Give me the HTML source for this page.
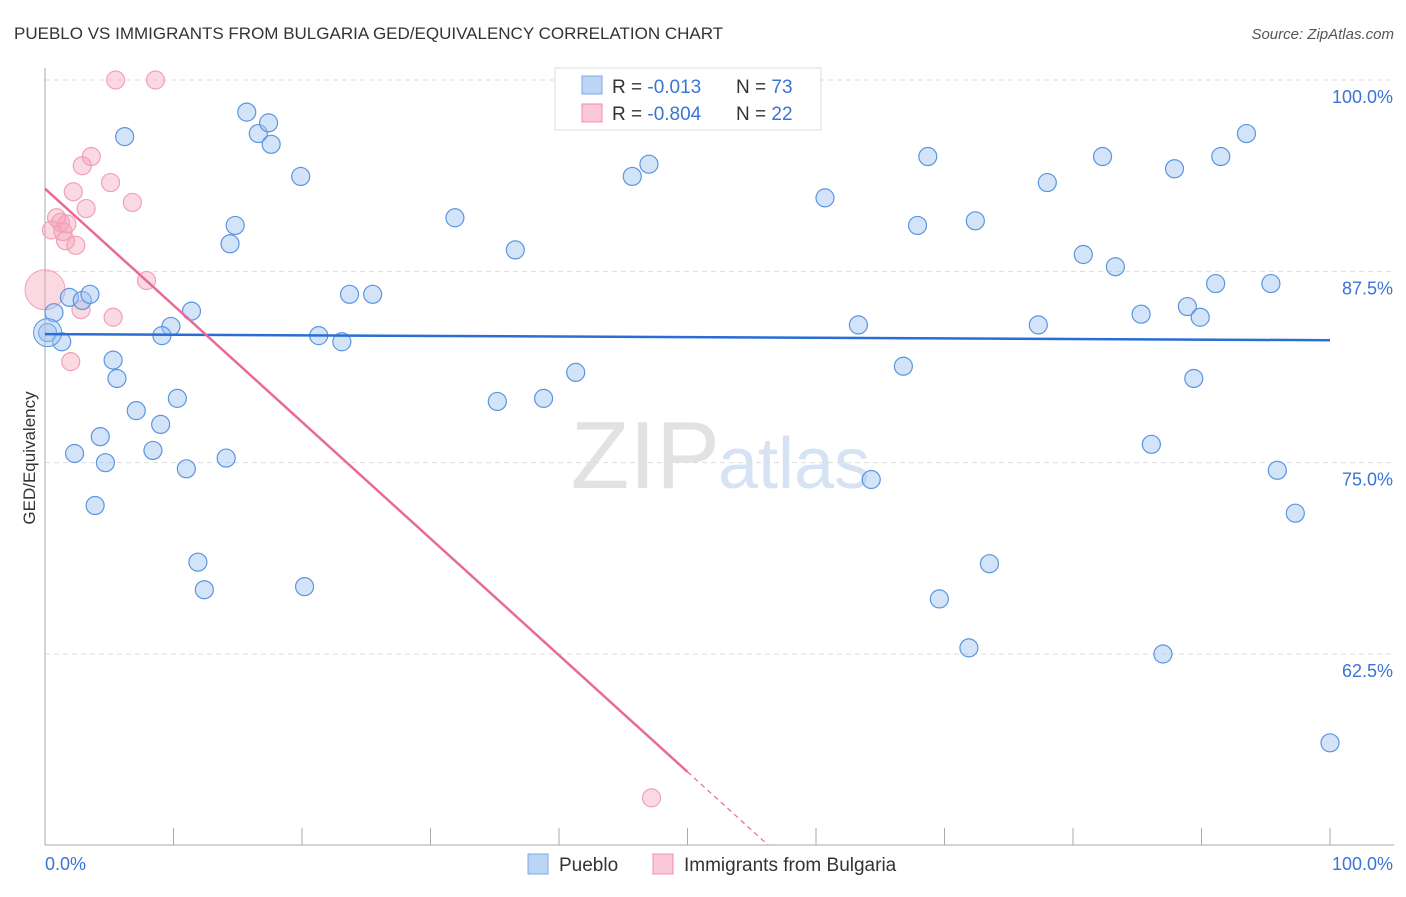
<!DOCTYPE html>
<html><head><meta charset="utf-8"><style>
body{margin:0;background:#fff;font-family:"Liberation Sans",sans-serif;}
svg text{font-family:"Liberation Sans",sans-serif;}
</style></head><body>
<svg id="c" width="1406" height="892" viewBox="0 0 1406 892" xmlns="http://www.w3.org/2000/svg">
<text x="14" y="39" font-size="17" fill="#333">PUEBLO VS IMMIGRANTS FROM BULGARIA GED/EQUIVALENCY CORRELATION CHART</text>
<text x="1394" y="39" font-size="15" fill="#555" font-style="italic" text-anchor="end">Source: ZipAtlas.com</text>
<text x="720" y="488" font-size="96" fill="#e2e2e2" text-anchor="end" font-family="Liberation Serif">ZIP</text>
<text x="718" y="488" font-size="72" fill="#d6e3f5">atlas</text>
<g id="grid"></g>
<g id="axes"></g>
<g id="pts"></g>
<g id="trend"></g>
<text x="35" y="458" font-size="17" fill="#333" text-anchor="middle" transform="rotate(-90 35 458)">GED/Equivalency</text>
<g>
<rect x="555" y="68" width="266" height="62" fill="#fff" stroke="#ddd"/>
<rect x="582" y="76" width="20" height="18" fill="#bcd5f5" stroke="#7aaae8"/>
<rect x="582" y="104" width="20" height="18" fill="#fbc8d8" stroke="#f08cab"/>
<text x="612" y="93" font-size="19" fill="#333">R = <tspan fill="#3a74d4"> -0.013</tspan></text>
<text x="736" y="93" font-size="19" fill="#333">N = <tspan fill="#3a74d4">73</tspan></text>
<text x="612" y="120" font-size="19" fill="#333">R = <tspan fill="#3a74d4">-0.804</tspan></text>
<text x="736" y="120" font-size="19" fill="#333">N = <tspan fill="#3a74d4">22</tspan></text>
</g>
<g>
<rect x="528" y="854" width="20" height="20" fill="#bcd5f5" stroke="#7aaae8"/>
<text x="559" y="871" font-size="19" fill="#333">Pueblo</text>
<rect x="653" y="854" width="20" height="20" fill="#fbc8d8" stroke="#f08cab"/>
<text x="684" y="871" font-size="19" fill="#333">Immigrants from Bulgaria</text>
</g>
</svg>
<script>
const blueX=[0.2,0.7,1.3,1.9,2.9,3.5,6.2,5.3,5.6,4.3,2.3,4.7,3.9,7.1,9.0,10.3,8.4,11.0,9.8,9.1,11.4,11.9,12.4,14.1,14.4,14.8,15.7,16.6,17.4,17.6,19.9,20.2,21.3,23.1,23.7,25.5,31.9,35.2,36.6,38.8,41.3,45.7,47.0,60.7,63.3,64.3,66.8,67.9,68.7,69.6,71.9,72.4,73.5,77.3,78.0,80.8,82.3,83.3,85.3,86.1,87.0,87.9,88.9,89.4,89.9,91.1,91.5,93.5,95.4,95.9,97.3,100];
const blueY=[83.5,84.8,82.9,85.8,85.6,86.0,96.3,81.7,80.5,76.7,75.6,75.0,72.2,78.4,77.5,79.2,75.8,74.6,83.9,83.3,84.9,68.5,66.7,75.3,89.3,90.5,97.9,96.5,97.2,95.8,93.7,66.9,83.3,82.9,86.0,86.0,91.0,79.0,88.9,79.2,80.9,93.7,94.5,92.3,84.0,73.9,81.3,90.5,95.0,66.1,62.9,90.8,68.4,84.0,93.3,88.6,95.0,87.8,84.7,76.2,62.5,94.2,85.2,80.5,84.5,86.7,95.0,96.5,86.7,74.5,71.7,56.7];
const pinkX=[5.5,8.6,3.6,2.9,2.2,5.1,3.2,6.8,0.9,1.2,1.7,0.5,1.4,1.6,2.4,7.9,2.8,5.3,2.0,47.2];
const pinkY=[100,100,95.0,94.4,92.7,93.3,91.6,92.0,91.0,90.7,90.6,90.2,90.1,89.5,89.2,86.9,85.0,84.5,81.6,53.1];
const bigBlue=[0.2,83.5], bigPink=[0,86.3];
const blueTrend=[83.4,83.0];
const pinkTrend=[92.9,-0.762];
const yTicks=[100,87.5,75,62.5];
const yTickLabels=["100.0%","87.5%","75.0%","62.5%"];
const xTickVals=[0,10,20,30,40,50,60,70,80,90,100];

const sx=v=>45+v*12.85, sy=v=>80+(100-v)*15.307;
const NS="http://www.w3.org/2000/svg";
function mk(p,t,a){const e=document.createElementNS(NS,t);for(const k in a)e.setAttribute(k,a[k]);p.appendChild(e);return e;}
const grid=document.getElementById('grid'),axes=document.getElementById('axes'),pts=document.getElementById('pts'),tr=document.getElementById('trend');
yTicks.forEach((v,i)=>{
 const l=mk(grid,'line',{x1:45,x2:1394,y1:sy(v),y2:sy(v),stroke:'#ddd','stroke-dasharray':'5,4'});
 
 
 const t=mk(axes,'text',{x:1393,y:sy(v)+23,'font-size':18,fill:'#3a74d4','text-anchor':'end'});t.textContent=yTickLabels[i];
 
 
});
mk(axes,'line',{x1:45,x2:45,y1:68,y2:845,stroke:'#aaa'});
mk(axes,'line',{x1:45,x2:1394,y1:845,y2:845,stroke:'#aaa'});
xTickVals.forEach(v=>{const l=mk(axes,'line',{x1:sx(v),x2:sx(v),y1:828,y2:845,stroke:'#aaa'});
 
 });
let t1=mk(axes,'text',{x:45,y:870,'font-size':18,fill:'#3a74d4'});t1.textContent='0.0%';


let t2=mk(axes,'text',{x:1393,y:870,'font-size':18,fill:'#3a74d4','text-anchor':'end'});t2.textContent='100.0%';



pinkX.forEach((x,i)=>{const c=mk(pts,'circle',{cx:sx(x),cy:sy(pinkY[i]),r:9,fill:'rgba(245,160,185,0.4)',stroke:'#f0a0b8','stroke-width':1.2});
 
 });
let bp=mk(pts,'circle',{cx:sx(bigPink[0]),cy:sy(bigPink[1]),r:20,fill:'rgba(245,160,185,0.4)',stroke:'#f0a0b8'});


blueX.forEach((x,i)=>{const c=mk(pts,'circle',{cx:sx(x),cy:sy(blueY[i]),r:9,fill:'rgba(160,195,240,0.45)',stroke:'#5a95e0','stroke-width':1.2});
 
 });
let bb=mk(pts,'circle',{cx:sx(bigBlue[0]),cy:sy(bigBlue[1]),r:14,fill:'rgba(160,195,240,0.45)',stroke:'#5a95e0'});



let bl=mk(tr,'line',{x1:sx(0),y1:sy(blueTrend[0]),x2:sx(100),y2:sy(blueTrend[1]),stroke:'#2a6dd4','stroke-width':2.5});


const pf=x=>pinkTrend[0]+pinkTrend[1]*x;
let pl=mk(tr,'line',{x1:sx(0),y1:sy(pf(0)),x2:sx(50),y2:sy(pf(50)),stroke:'#e8699a','stroke-width':2.5});


const xEnd=(50-pinkTrend[0])/pinkTrend[1];
let pd=mk(tr,'line',{x1:sx(50),y1:sy(pf(50)),x2:sx(xEnd),y2:sy(50),stroke:'#e8699a','stroke-width':1.2,'stroke-dasharray':'5,4'});


</script>
</body></html>
